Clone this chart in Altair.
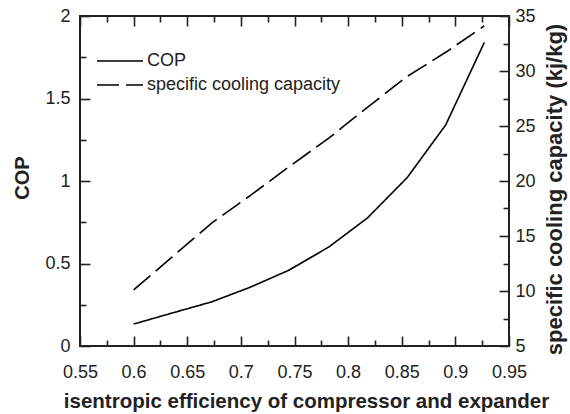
import altair as alt
import pandas as pd

# ---- data ----
efficiency = [0.6, 0.636, 0.673, 0.709, 0.745, 0.782, 0.818, 0.855, 0.891, 0.927]
cop = [0.133, 0.20, 0.268, 0.357, 0.46, 0.60, 0.776, 1.02, 1.34, 1.84]
capacity = [10.1, 13.1, 16.2, 18.7, 21.3, 23.9, 26.7, 29.5, 31.7, 34.1]

series_names = ["COP", "specific cooling capacity"]

x_domain = [0.55, 0.95]
x_labels = [0.55, 0.6, 0.65, 0.7, 0.75, 0.8, 0.85, 0.9, 0.95]
x_ticks_minor = [0.575, 0.625, 0.675, 0.725, 0.775, 0.825, 0.875, 0.925]
cop_domain = [0, 2]
cop_labels = [0, 0.5, 1, 1.5, 2]
cop_ticks_minor = [0.25, 0.75, 1.25, 1.75]
cap_domain = [5, 35]
cap_labels = [5, 10, 15, 20, 25, 30, 35]
cap_ticks_minor = [7.5, 12.5, 17.5, 22.5, 27.5, 32.5]

W, H = 429, 330
FONT = "Liberation Sans"
INK = "#222222"
MAJ = alt.ExprRef(expr="-10")   # inward major ticks
MIN = alt.ExprRef(expr="-6")    # inward minor ticks

df_cop = pd.DataFrame({"x": efficiency, "y": cop, "series": series_names[0]})
df_cap = pd.DataFrame({"x": efficiency, "y": capacity, "series": series_names[1]})

x_scale = alt.Scale(domain=x_domain, nice=False, zero=False)
cop_scale = alt.Scale(domain=cop_domain, nice=False, zero=False)
cap_scale = alt.Scale(domain=cap_domain, nice=False, zero=False)

tick_style = dict(ticks=True, tickColor=INK, tickWidth=1.6, domain=False, grid=False)

# bottom: labels + major ticks
x_axis_main = alt.Axis(orient="bottom", values=x_labels, format="~g", tickSize=MAJ,
                       labelFlush=False, labelPadding=27, labelFontSize=18, labelFont=FONT,
                       labelColor=INK,
                       title="isentropic efficiency of compressor and expander",
                       titleFont=FONT, titleFontSize=20.5, titleFontWeight="bold",
                       titleColor=INK, titleX=226, titleY=61, titleAlign="center",
                       titleBaseline="alphabetic", **tick_style)
x_axis_bottom_minor = alt.Axis(orient="bottom", values=x_ticks_minor, tickSize=MIN,
                               labels=False, title=None, **tick_style)
x_axis_top_major = alt.Axis(orient="top", values=x_labels, tickSize=MAJ,
                            labels=False, title=None, **tick_style)
x_axis_top_minor = alt.Axis(orient="top", values=x_ticks_minor, tickSize=MIN,
                            labels=False, title=None, **tick_style)

cop_axis = alt.Axis(orient="left", values=cop_labels, format="~g", tickSize=MAJ,
                    labelFlush=False, labelPadding=20, labelFontSize=18,
                    labelFont=FONT, labelColor=INK, title="COP", titleFont=FONT,
                    titleFontSize=20, titleFontWeight="bold", titleColor=INK,
                    titleAngle=270, titleX=-52, titleY=161.5, titleAlign="center",
                    titleBaseline="alphabetic", **tick_style)
cop_axis_minor = alt.Axis(orient="left", values=cop_ticks_minor, tickSize=MIN,
                          labels=False, title=None, **tick_style)

cap_axis = alt.Axis(orient="right", values=cap_labels, format="~g", tickSize=MAJ,
                    labelFlush=False, labelPadding=16, labelFontSize=18,
                    labelFont=FONT, labelColor=INK,
                    title="specific cooling capacity (kj/kg)",
                    titleFont=FONT, titleFontSize=22, titleFontWeight="bold",
                    titleColor=INK, titleAngle=270, titleX=52, titleY=173,
                    titleAlign="center", titleBaseline="alphabetic", **tick_style)
cap_axis_minor = alt.Axis(orient="right", values=cap_ticks_minor, tickSize=MIN,
                          labels=False, title=None, **tick_style)

dash_scale = alt.Scale(domain=series_names, range=[[1, 0], [22, 7]])
dash_legend = alt.Legend(orient="none", legendX=16, legendY=34, title=None,
                         symbolType="stroke", symbolSize=2116, symbolStrokeWidth=1.6,
                         symbolStrokeColor="black", labelFont=FONT, labelFontSize=18,
                         labelColor=INK, labelOffset=3, labelLimit=0,
                         clipHeight=22, rowPadding=2)

# visible curves (carry the labelled axes and the top major ticks)
line_cop = alt.Chart(df_cop).mark_line(color="black", strokeWidth=1.6).encode(
    x=alt.X("x:Q", scale=x_scale, axis=x_axis_main),
    y=alt.Y("y:Q", scale=cop_scale, axis=cop_axis),
    strokeDash=alt.StrokeDash("series:N", scale=dash_scale, legend=dash_legend),
)
line_cap = alt.Chart(df_cap).mark_line(color="black", strokeWidth=1.6).encode(
    x=alt.X("x:Q", scale=x_scale, axis=x_axis_top_major),
    y=alt.Y("y:Q", scale=cap_scale, axis=cap_axis),
    strokeDash=alt.StrokeDash("series:N", scale=dash_scale, legend=dash_legend),
)

# transparent copies that only carry the minor-tick axes
minor_cop = alt.Chart(df_cop).mark_line(opacity=0).encode(
    x=alt.X("x:Q", scale=x_scale, axis=x_axis_bottom_minor),
    y=alt.Y("y:Q", scale=cop_scale, axis=cop_axis_minor),
)
minor_cap = alt.Chart(df_cap).mark_line(opacity=0).encode(
    x=alt.X("x:Q", scale=x_scale, axis=x_axis_top_minor),
    y=alt.Y("y:Q", scale=cap_scale, axis=cap_axis_minor),
)

chart = alt.layer(line_cop, line_cap, minor_cop, minor_cap).resolve_scale(
    y="independent", strokeDash="shared"
).resolve_axis(
    x="independent", y="independent"
).properties(
    width=W, height=H,
    autosize=alt.AutoSizeParams(type="none"),
    padding={"left": 80, "top": 16, "right": 61, "bottom": 68},
    background="white",
).configure_view(stroke=INK, strokeWidth=2)

chart.save("out.html", embed_options={"renderer": "svg", "actions": False})
